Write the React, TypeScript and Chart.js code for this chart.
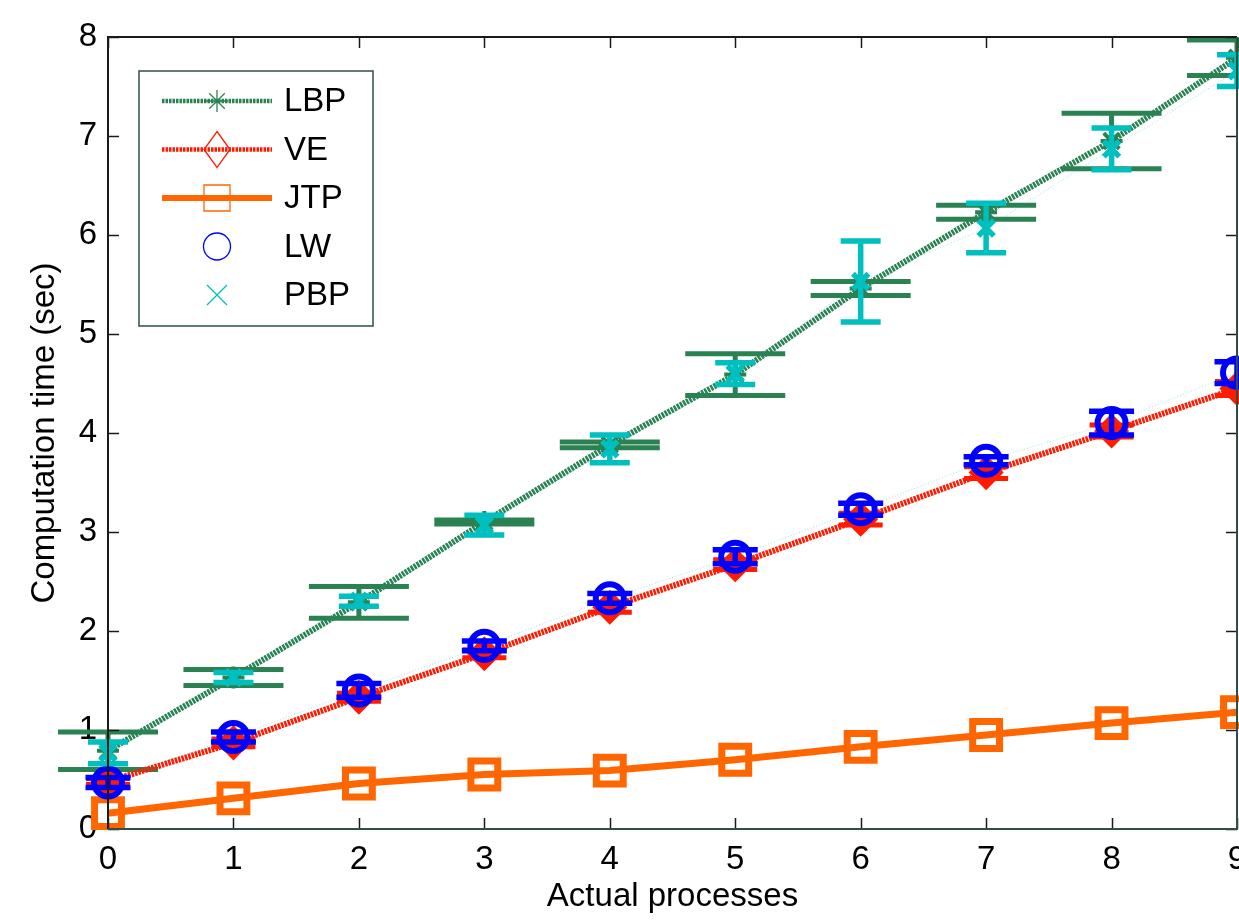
import React, { useEffect, useRef } from 'react';
import { Chart, registerables } from 'chart.js';

Chart.register(...registerables);

// ---------- data ----------
const processes = [0, 1, 2, 3, 4, 5, 6, 7, 8, 9];
const xTickValues = [0, 1, 2, 3, 4, 5, 6, 7, 8, 9];
const yTickValues = [0, 1, 2, 3, 4, 5, 6, 7, 8];

const lbpTime = [0.79, 1.53, 2.29, 3.1, 3.88, 4.59, 5.46, 6.23, 6.95, 7.79];
const lbpErr = [0.19, 0.08, 0.16, 0.02, 0.03, 0.21, 0.07, 0.07, 0.28, 0.18];

const veTime = [0.48, 0.87, 1.33, 1.77, 2.24, 2.67, 3.13, 3.6, 4.02, 4.45];
const veErr = [0.03, 0.04, 0.04, 0.04, 0.05, 0.05, 0.06, 0.06, 0.06, 0.07];

const jtpTime = [0.16, 0.31, 0.46, 0.55, 0.59, 0.7, 0.83, 0.95, 1.07, 1.18];

const lwTime = [0.47, 0.93, 1.4, 1.85, 2.33, 2.75, 3.23, 3.72, 4.1, 4.61];
const lwErr = [0.05, 0.05, 0.07, 0.05, 0.05, 0.07, 0.06, 0.04, 0.12, 0.11];

const pbpTime = [0.77, 1.53, 2.3, 3.07, 3.84, 4.6, 5.53, 6.07, 6.87, 7.66];
const pbpErr = [0.11, 0.05, 0.05, 0.1, 0.14, 0.11, 0.41, 0.25, 0.21, 0.16];

const seriesNames = ['LBP', 'VE', 'JTP', 'LW', 'PBP'];

// ---------- style ----------
const FONT = "'Liberation Sans', Arial, Helvetica, sans-serif";
const GREEN = '#2A8253';
const RED = '#FF1A00';
const ORANGE = '#FF6600';
const BLUE = '#0000FF';
const CYAN = '#00BFBF';
const FAINT = 'rgba(0,190,190,0.3)';
const AXIS_DARK = '#1a1a1a';
const AXIS_GREEN = '#2F4F45';

const toPoints = (ys: number[]) => processes.map((x, i) => ({ x, y: ys[i] }));

const errorBarPlugin = {
  id: 'errorBars',
  afterDatasetDraw(chart: any, args: any) {
    const ds: any = chart.data.datasets[args.index];
    if (!ds.errors) return;
    const ctx = chart.ctx;
    const xs = chart.scales.x;
    const ys = chart.scales.y;
    ctx.save();
    ctx.strokeStyle = ds.errColor;
    ctx.lineWidth = ds.errWidth;
    ctx.lineCap = 'butt';
    ctx.setLineDash([]);
    ds.data.forEach((p: any, i: number) => {
      const e = ds.errors[i];
      const px = xs.getPixelForValue(p.x);
      const top = ys.getPixelForValue(p.y + e);
      const bot = ys.getPixelForValue(p.y - e);
      const hw = ds.capWidth / 2;
      ctx.beginPath();
      ctx.moveTo(px, top);
      ctx.lineTo(px, bot);
      ctx.moveTo(px - hw, top);
      ctx.lineTo(px + hw, top);
      ctx.moveTo(px - hw, bot);
      ctx.lineTo(px + hw, bot);
      ctx.stroke();
    });
    ctx.restore();
  },
};

const axesBoxPlugin = {
  id: 'axesBox',
  afterDatasetsDraw(chart: any) {
    const { ctx, chartArea: a, scales } = chart;
    const tl = 11;
    ctx.save();
    ctx.setLineDash([]);
    ctx.lineWidth = 1.5;
    ctx.strokeStyle = AXIS_DARK;
    scales.x.ticks.forEach((t: any) => {
      const px = Math.round(scales.x.getPixelForValue(t.value)) + 0.5;
      ctx.beginPath();
      ctx.moveTo(px, a.bottom);
      ctx.lineTo(px, a.bottom - tl);
      ctx.moveTo(px, a.top);
      ctx.lineTo(px, a.top + tl);
      ctx.stroke();
    });
    scales.y.ticks.forEach((t: any) => {
      const py = Math.round(scales.y.getPixelForValue(t.value)) + 0.5;
      ctx.beginPath();
      ctx.moveTo(a.left, py);
      ctx.lineTo(a.left + tl, py);
      ctx.moveTo(a.right, py);
      ctx.lineTo(a.right - tl, py);
      ctx.stroke();
    });
    ctx.lineWidth = 2;
    ctx.strokeStyle = AXIS_DARK;
    ctx.beginPath();
    ctx.moveTo(a.left, a.bottom);
    ctx.lineTo(a.left, a.top);
    ctx.lineTo(a.right, a.top);
    ctx.stroke();
    ctx.strokeStyle = AXIS_GREEN;
    ctx.beginPath();
    ctx.moveTo(a.right, a.top);
    ctx.lineTo(a.right, a.bottom);
    ctx.lineTo(a.left, a.bottom);
    ctx.stroke();
    ctx.restore();
  },
};

function drawLegendMarker(ctx: CanvasRenderingContext2D, kind: string, x: number, y: number, color: string) {
  ctx.save();
  ctx.setLineDash([]);
  ctx.strokeStyle = color;
  ctx.lineWidth = 1.3;
  ctx.beginPath();
  if (kind === 'star') {
    const r = 11;
    for (let k = 0; k < 4; k++) {
      const ang = (k * Math.PI) / 4;
      ctx.moveTo(x - r * Math.cos(ang), y - r * Math.sin(ang));
      ctx.lineTo(x + r * Math.cos(ang), y + r * Math.sin(ang));
    }
  } else if (kind === 'diamond') {
    ctx.moveTo(x, y - 18);
    ctx.lineTo(x + 13, y);
    ctx.lineTo(x, y + 18);
    ctx.lineTo(x - 13, y);
    ctx.closePath();
  } else if (kind === 'square') {
    ctx.rect(x - 13, y - 13, 26, 26);
  } else if (kind === 'circle') {
    ctx.arc(x, y, 13.5, 0, Math.PI * 2);
  } else if (kind === 'x') {
    const r = 10;
    ctx.moveTo(x - r, y - r);
    ctx.lineTo(x + r, y + r);
    ctx.moveTo(x + r, y - r);
    ctx.lineTo(x - r, y + r);
  }
  ctx.stroke();
  ctx.restore();
}

const legendPlugin = {
  id: 'insideLegend',
  afterDraw(chart: any) {
    const ctx: CanvasRenderingContext2D = chart.ctx;
    const box = { x: 139, y: 71, w: 234, h: 255 };
    ctx.save();
    ctx.fillStyle = '#ffffff';
    ctx.fillRect(box.x, box.y, box.w, box.h);
    ctx.strokeStyle = AXIS_GREEN;
    ctx.lineWidth = 1.5;
    ctx.strokeRect(box.x, box.y, box.w, box.h);

    const rows = [
      { name: seriesNames[0], color: GREEN, line: 'dotted', width: 4.5, marker: 'star' },
      { name: seriesNames[1], color: RED, line: 'dotted', width: 4.5, marker: 'diamond' },
      { name: seriesNames[2], color: ORANGE, line: 'solid', width: 6, marker: 'square' },
      { name: seriesNames[3], color: BLUE, line: 'none', width: 0, marker: 'circle' },
      { name: seriesNames[4], color: CYAN, line: 'none', width: 0, marker: 'x' },
    ];
    rows.forEach((r, i) => {
      const cy = 101 + i * 48.5;
      if (r.line !== 'none') {
        ctx.save();
        ctx.strokeStyle = r.color;
        ctx.lineWidth = r.width;
        ctx.lineCap = 'butt';
        ctx.setLineDash(r.line === 'dotted' ? [2.5, 1] : []);
        ctx.beginPath();
        ctx.moveTo(162, cy);
        ctx.lineTo(272, cy);
        ctx.stroke();
        ctx.restore();
      }
      drawLegendMarker(ctx, r.marker, 217, cy, r.color);
      ctx.fillStyle = '#000';
      ctx.font = `33px ${FONT}`;
      ctx.textAlign = 'left';
      ctx.textBaseline = 'middle';
      ctx.fillText(r.name, 284, cy + 1);
    });
    ctx.restore();
  },
};

export default function App() {
  const ref = useRef<HTMLCanvasElement | null>(null);

  useEffect(() => {
    if (!ref.current) return;
    const chart = new Chart(ref.current, {
      type: 'line',
      data: {
        datasets: [
          {
            label: seriesNames[0],
            data: toPoints(lbpTime),
            borderColor: GREEN,
            borderWidth: 6,
            borderDash: [2.5, 1],
            pointStyle: 'star',
            pointRadius: 11,
            pointBorderWidth: 4,
            pointBorderColor: GREEN,
            pointBackgroundColor: GREEN,
            clip: false,
            order: 5,
            errors: lbpErr,
            capWidth: 100,
            errColor: GREEN,
            errWidth: 5,
          } as any,
          {
            label: seriesNames[1],
            data: toPoints(veTime),
            borderColor: RED,
            borderWidth: 6,
            borderDash: [2.5, 1],
            pointStyle: 'rectRot',
            pointRadius: 14,
            pointBorderWidth: 5,
            pointBorderColor: RED,
            pointBackgroundColor: RED,
            clip: false,
            order: 4,
            errors: veErr,
            capWidth: 44,
            errColor: RED,
            errWidth: 5,
          } as any,
          {
            label: seriesNames[2],
            data: toPoints(jtpTime),
            borderColor: ORANGE,
            borderWidth: 7,
            pointStyle: 'rect',
            pointRadius: 19,
            pointBorderWidth: 7,
            pointBorderColor: ORANGE,
            pointBackgroundColor: 'rgba(0,0,0,0)',
            clip: false,
            order: 3,
          } as any,
          {
            label: seriesNames[3],
            data: toPoints(lwTime),
            borderColor: FAINT,
            borderWidth: 1.2,
            borderDash: [1, 2],
            pointStyle: 'circle',
            pointRadius: 14,
            pointBorderWidth: 6,
            pointBorderColor: BLUE,
            pointBackgroundColor: 'rgba(0,0,0,0)',
            clip: false,
            order: 2,
            errors: lwErr,
            capWidth: 45,
            errColor: BLUE,
            errWidth: 5.5,
          } as any,
          {
            label: seriesNames[4],
            data: toPoints(pbpTime),
            borderColor: FAINT,
            borderWidth: 1.2,
            borderDash: [1, 2],
            pointStyle: 'crossRot',
            pointRadius: 11,
            pointBorderWidth: 5.5,
            pointBorderColor: CYAN,
            pointBackgroundColor: CYAN,
            clip: false,
            order: 1,
            errors: pbpErr,
            capWidth: 40,
            errColor: CYAN,
            errWidth: 5.5,
          } as any,
        ],
      },
      options: {
        animation: false,
        responsive: false,
        events: [],
        layout: { autoPadding: false, padding: { top: 37, right: 2, left: 0, bottom: 0 } },
        plugins: {
          legend: { display: false },
          tooltip: { enabled: false },
        },
        scales: {
          x: {
            type: 'linear',
            min: 0,
            max: 9,
            afterBuildTicks: (s: any) => {
              s.ticks = xTickValues.map((v) => ({ value: v }));
            },
            afterFit: (s: any) => {
              s.height = 93;
              s.paddingLeft = 0;
              s.paddingRight = 0;
            },
            grid: { display: false, drawTicks: false },
            border: { display: false },
            ticks: {
              color: '#000',
              font: { family: FONT, size: 33 },
              padding: 11,
              maxRotation: 0,
              autoSkip: false,
              callback: (v: any) => String(v),
            },
            title: {
              display: true,
              text: 'Actual processes',
              color: '#000',
              font: { family: FONT, size: 33 },
              padding: { top: 0, bottom: 5 },
            },
          },
          y: {
            type: 'linear',
            min: 0,
            max: 8,
            afterBuildTicks: (s: any) => {
              s.ticks = yTickValues.map((v) => ({ value: v }));
            },
            afterFit: (s: any) => {
              s.width = 108;
              s.paddingTop = 0;
              s.paddingBottom = 0;
            },
            grid: { display: false, drawTicks: false },
            border: { display: false },
            ticks: {
              color: '#000',
              font: { family: FONT, size: 33 },
              padding: 11,
              autoSkip: false,
              callback: (v: any) => String(v),
            },
            title: {
              display: true,
              text: 'Computation time (sec)',
              color: '#000',
              font: { family: FONT, size: 33 },
              padding: { top: 25, bottom: 0 },
            },
          },
        },
      } as any,
      plugins: [errorBarPlugin, axesBoxPlugin, legendPlugin],
    });
    return () => chart.destroy();
  }, []);

  return (
    <div style={{ position: 'absolute', left: 0, top: 0, width: 1239, height: 922, background: '#fff' }}>
      <canvas ref={ref} width={1239} height={922} style={{ display: 'block', width: 1239, height: 922 }} />
    </div>
  );
}
